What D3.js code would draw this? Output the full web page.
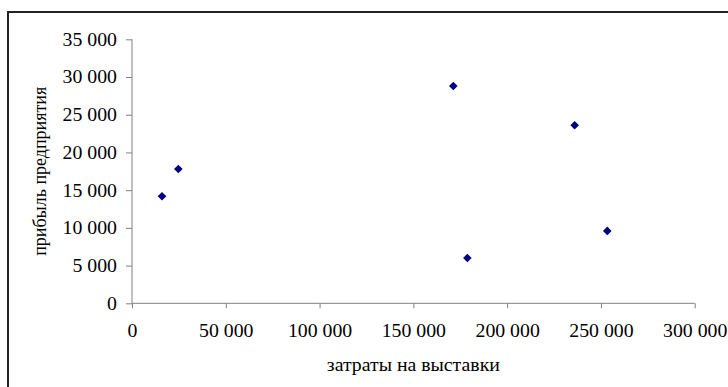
<!DOCTYPE html>
<html>
<head>
<meta charset="utf-8">
<script src="https://cdn.jsdelivr.net/npm/d3@7"></script>
<style>
  html, body { margin: 0; padding: 0; background: #fff; }
  svg { display: block; }
</style>
</head>
<body>
<svg id="chart" width="728" height="387"></svg>
<script>
// Exhibition spending vs. company profit
const costs   = [16000, 24700, 171300, 178800, 236000, 253400];
const profits = [14200, 17800, 28800, 6000, 23600, 9600];
const xTicks = [0, 50000, 100000, 150000, 200000, 250000, 300000];
const yTicks = [0, 5000, 10000, 15000, 20000, 25000, 30000, 35000];
const xTitle = "затраты на выставки";
const yTitle = "прибыль предприятия";

const FONT = "Liberation Serif";
const FS = 18;       // font size in px
const SX = 1.1;      // horizontal stretch of the lettering

const svg = d3.select("#chart");
const fmt = v => d3.format(",")(v).replace(/,/g, " ");

// outer frame
svg.append("rect")
  .attr("x", 8).attr("y", 12)
  .attr("width", 740).attr("height", 400)
  .attr("fill", "none").attr("stroke", "#222").attr("stroke-width", 2);

const x = d3.scaleLinear().domain([0, 300000]).range([132, 694.7]);
const y = d3.scaleLinear().domain([0, 35000]).range([303.3, 39.3]);

const axisColor = "#808080";

// Y axis
const gy = svg.append("g").attr("transform", "translate(132,0)")
  .call(d3.axisLeft(y).tickValues(yTicks).tickFormat(fmt).tickSize(6).tickPadding(9));
gy.attr("font-family", FONT).attr("font-size", FS);
gy.selectAll("path, line").attr("stroke", axisColor);
gy.select(".domain").attr("d", `M0,${y(35000)}V${y(0)}`);
gy.selectAll("text").attr("fill", "#000")
  .attr("x", null).attr("dy", "0.33em")
  .attr("transform", `translate(-15,0) scale(${SX},1)`);

// X axis
const gx = svg.append("g").attr("transform", `translate(0,${y(0)})`)
  .call(d3.axisBottom(x).tickValues(xTicks).tickFormat(fmt).tickSize(5).tickPadding(14));
gx.attr("font-family", FONT).attr("font-size", FS);
gx.selectAll("path, line").attr("stroke", axisColor);
gx.select(".domain").attr("d", `M${x(0)},0H${x(300000)}`);
gx.selectAll("text").attr("fill", "#000")
  .attr("y", null).attr("dy", null)
  .attr("transform", `translate(0,34) scale(${SX},1)`);

// axis titles
svg.append("text")
  .attr("transform", `translate(${(x(0) + x(300000)) / 2},371) scale(${SX},1)`)
  .attr("text-anchor", "middle")
  .attr("font-family", FONT).attr("font-size", FS)
  .text(xTitle);

svg.append("text")
  .attr("transform", `translate(46,${(y(0) + y(35000)) / 2}) rotate(-90)`)
  .attr("text-anchor", "middle")
  .attr("font-family", FONT).attr("font-size", FS)
  .text(yTitle);

// diamond markers
const data = costs.map((c, i) => ({ c, p: profits[i] }));
svg.append("g").selectAll("path")
  .data(data).join("path")
  .attr("transform", d => `translate(${x(d.c)},${y(d.p)})`)
  .attr("d", "M0,-4.3L4.3,0L0,4.3L-4.3,0Z")
  .attr("fill", "#000080");
</script>
</body>
</html>
